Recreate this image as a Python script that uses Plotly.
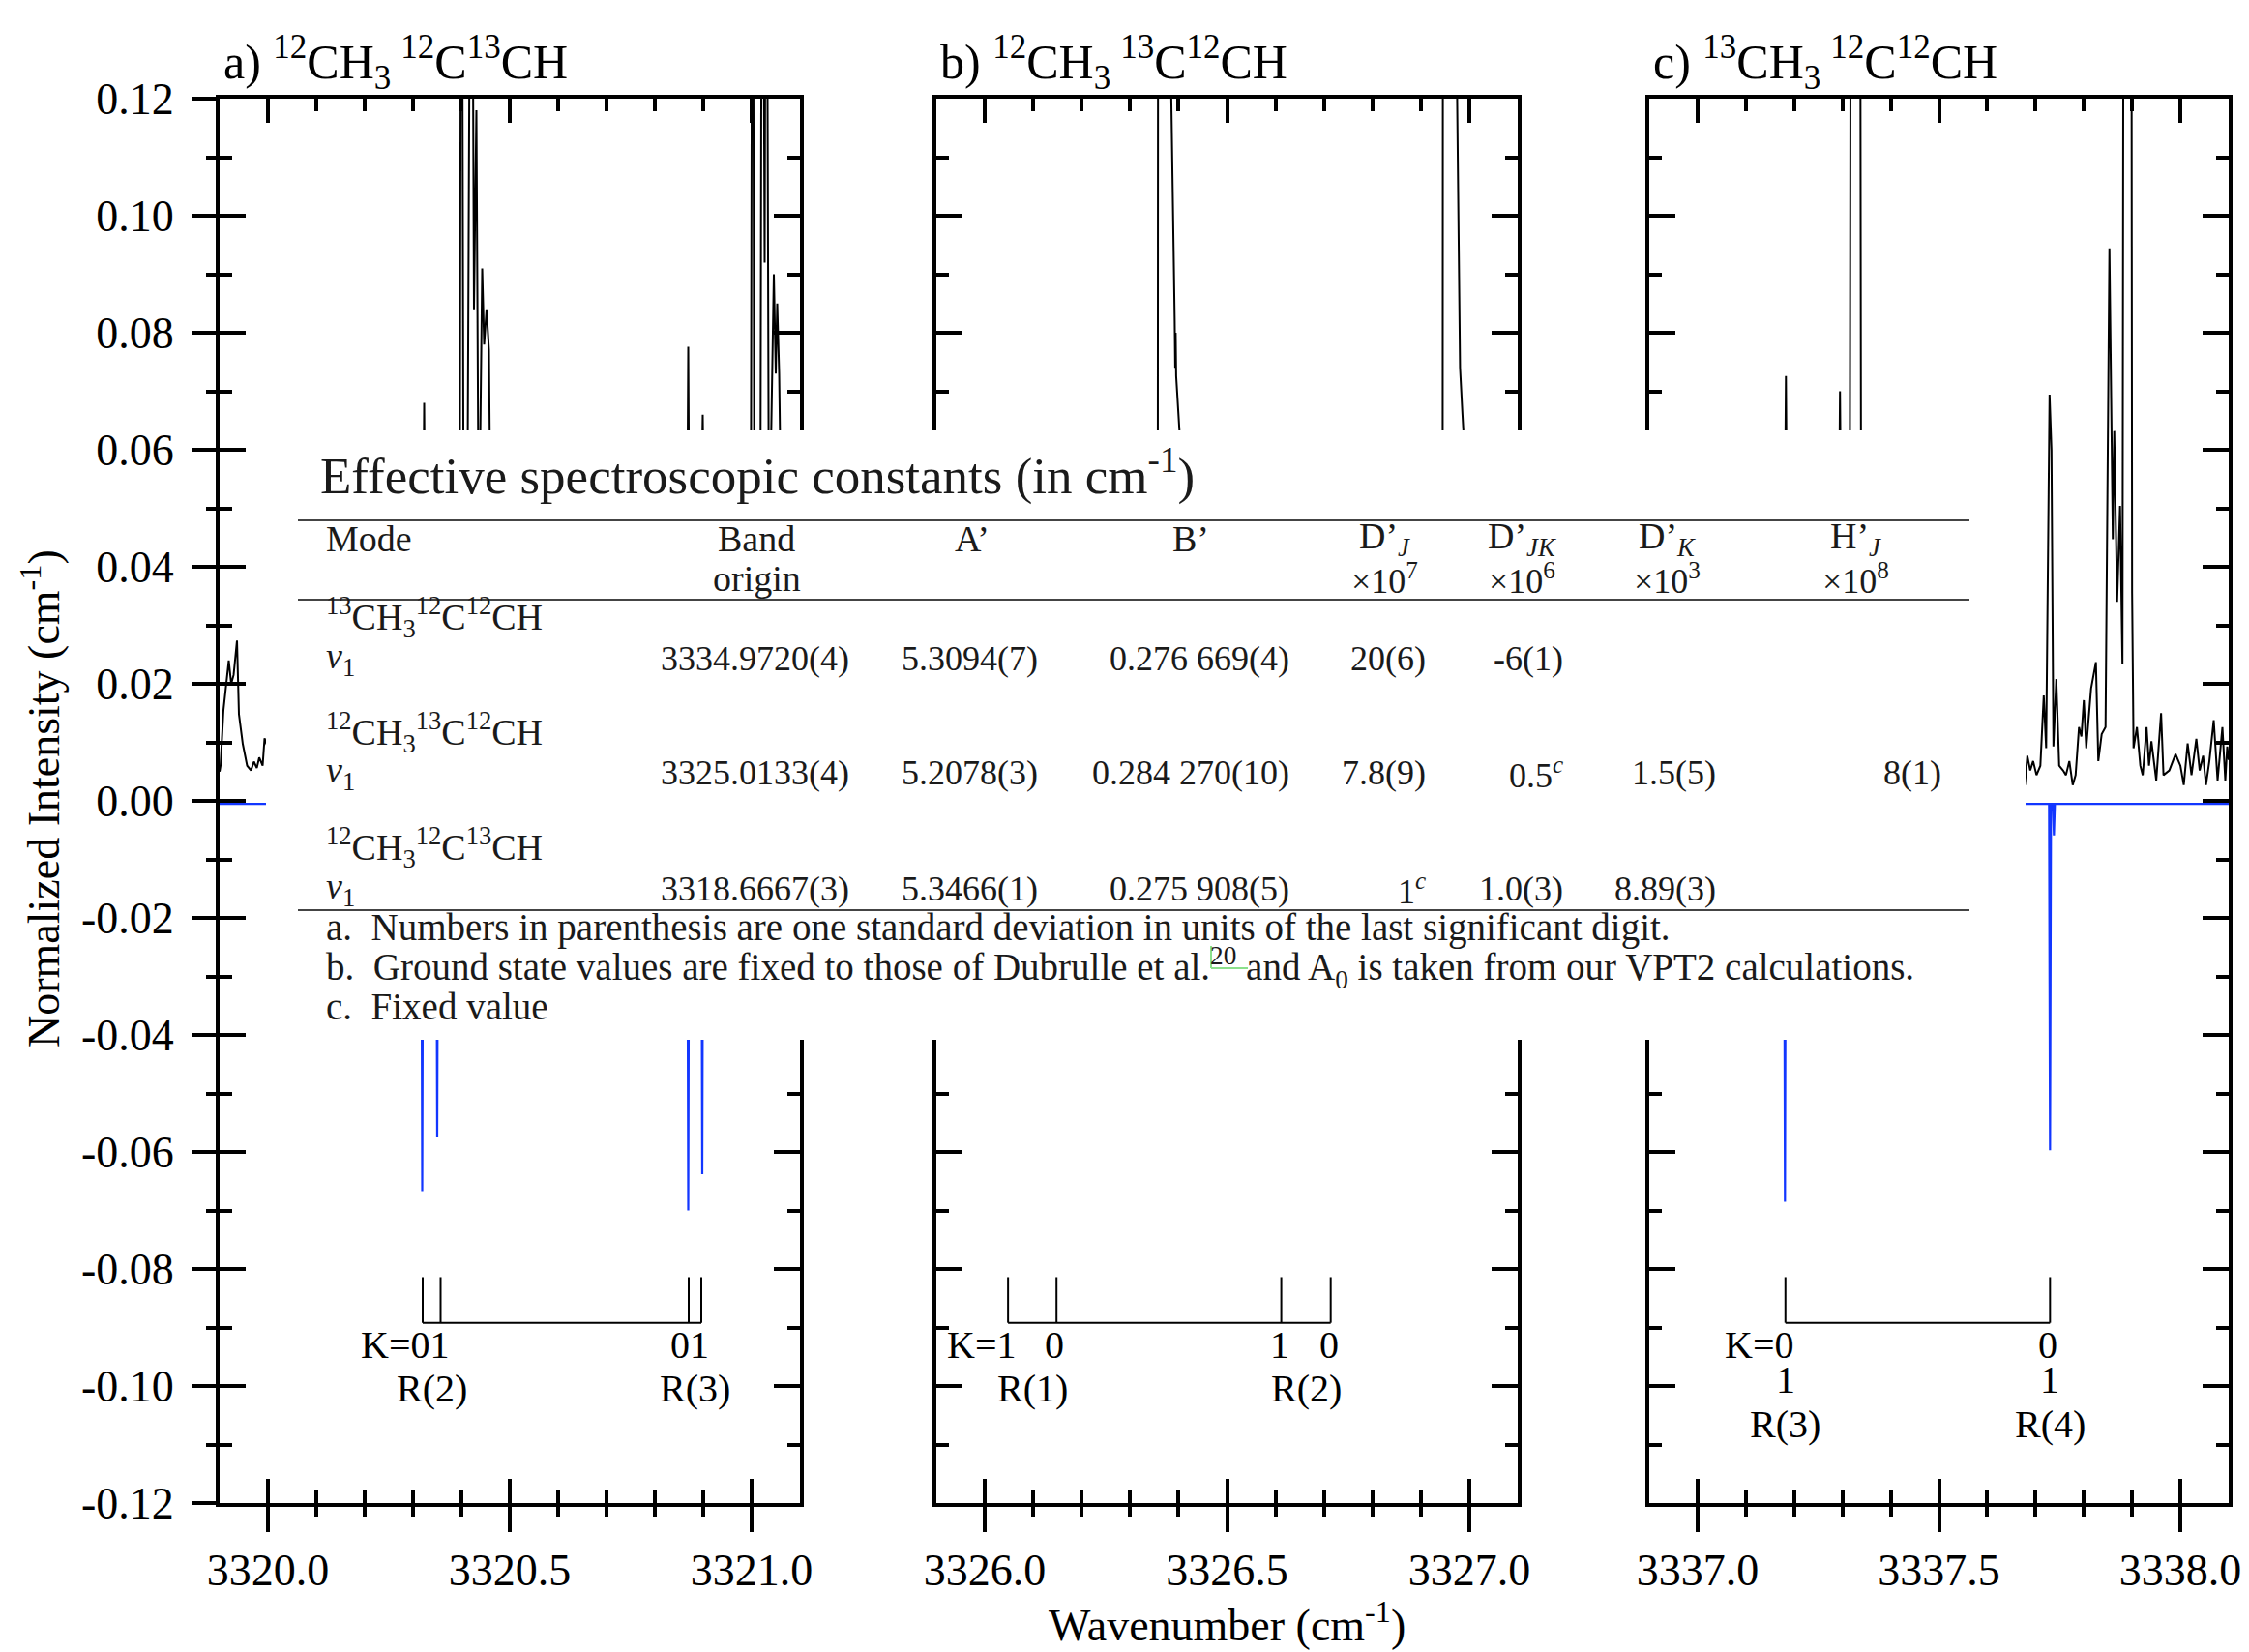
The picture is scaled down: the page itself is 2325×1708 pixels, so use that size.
import plotly.graph_objects as go

W, H = 2325, 1708
FONT = "Liberation Serif"

# ---------------- spectra: (wavenumber / cm-1, normalized intensity / cm-1) ----------------
exp_a = [(3319.900, 0.0050), (3319.902, 0.0060), (3319.908, 0.0155), (3319.914, 0.0200), (3319.919, 0.0240),
         (3319.924, 0.0200), (3319.929, 0.0215), (3319.936, 0.0274), (3319.940, 0.0148), (3319.948, 0.0097),
         (3319.957, 0.0060), (3319.965, 0.0052), (3319.971, 0.0067), (3319.977, 0.0056), (3319.982, 0.0074),
         (3319.989, 0.0060), (3319.993, 0.0107), (3320.000, 0.0090), (3320.050, 0.0080), (3320.120, 0.0060),
         (3320.200, 0.0100), (3320.260, 0.0080), (3320.318, 0.0080), (3320.323, 0.0680), (3320.328, 0.0120),
         (3320.345, 0.0200), (3320.360, 0.0300), (3320.380, 0.0150), (3320.396, 0.0200), (3320.400, 0.2000),
         (3320.405, 0.0300), (3320.412, 0.0400), (3320.4205, 0.2000), (3320.426, 0.0840), (3320.431, 0.1180),
         (3320.436, 0.0400), (3320.443, 0.0910), (3320.447, 0.0780), (3320.452, 0.0840), (3320.457, 0.0770),
         (3320.463, 0.0200), (3320.500, 0.0100), (3320.600, 0.0080), (3320.700, 0.0120), (3320.800, 0.0100),
         (3320.865, 0.0150), (3320.869, 0.0776), (3320.873, 0.0200), (3320.890, 0.0200), (3320.899, 0.0660),
         (3320.905, 0.0200), (3320.960, 0.0150), (3320.998, 0.0300), (3321.002, 0.2000), (3321.006, 0.0300),
         (3321.018, 0.0400), (3321.022, 0.2000), (3321.027, 0.0920), (3321.030, 0.2000), (3321.036, 0.0400),
         (3321.046, 0.0900), (3321.050, 0.0730), (3321.053, 0.0850), (3321.057, 0.0730), (3321.064, 0.0300),
         (3321.080, 0.0200), (3321.100, 0.0150)]

exp_b = [(3325.900, 0.0100), (3326.000, 0.0080), (3326.100, 0.0100), (3326.200, 0.0120), (3326.300, 0.0100),
         (3326.350, 0.0200), (3326.357, 0.0400), (3326.358, 0.2000), (3326.383, 0.2000), (3326.385, 0.1200),
         (3326.392, 0.0820), (3326.393, 0.0740), (3326.394, 0.0800), (3326.395, 0.0726), (3326.402, 0.0630),
         (3326.408, 0.0300), (3326.450, 0.0120), (3326.550, 0.0100), (3326.650, 0.0120), (3326.750, 0.0100),
         (3326.850, 0.0120), (3326.940, 0.0200), (3326.945, 0.0400), (3326.946, 0.2000), (3326.973, 0.2000),
         (3326.975, 0.1200), (3326.981, 0.0740), (3326.983, 0.0700), (3326.986, 0.0660), (3326.988, 0.0630),
         (3326.993, 0.0300), (3327.030, 0.0120), (3327.100, 0.0100)]

exp_c = [(3336.900, 0.0100), (3337.000, 0.0080), (3337.100, 0.0120), (3337.178, 0.0150), (3337.183, 0.0726),
         (3337.188, 0.0150), (3337.250, 0.0100), (3337.290, 0.0150), (3337.295, 0.0700), (3337.300, 0.0200),
         (3337.315, 0.0300), (3337.318, 0.2000), (3337.336, 0.2000), (3337.339, 0.0300), (3337.400, 0.0150),
         (3337.500, 0.0100), (3337.600, 0.0120), (3337.660, 0.0080), (3337.672, 0.0060), (3337.678, 0.0027),
         (3337.683, 0.0077), (3337.689, 0.0052), (3337.695, 0.0068), (3337.702, 0.0044), (3337.710, 0.0060),
         (3337.717, 0.0180), (3337.722, 0.0090), (3337.729, 0.0694), (3337.733, 0.0599), (3337.737, 0.0093),
         (3337.743, 0.0208), (3337.749, 0.0060), (3337.757, 0.0052), (3337.763, 0.0044), (3337.770, 0.0068),
         (3337.777, 0.0027), (3337.783, 0.0044), (3337.790, 0.0126), (3337.795, 0.0110), (3337.800, 0.0172),
         (3337.805, 0.0090), (3337.815, 0.0192), (3337.825, 0.0237), (3337.830, 0.0068), (3337.837, 0.0114),
         (3337.845, 0.0126), (3337.853, 0.0944), (3337.860, 0.0447), (3337.863, 0.0632), (3337.869, 0.0340),
         (3337.875, 0.0504), (3337.880, 0.0233), (3337.883, 0.2000), (3337.898, 0.2000), (3337.900, 0.0355),
         (3337.903, 0.0090), (3337.910, 0.0126), (3337.917, 0.0060), (3337.922, 0.0044), (3337.930, 0.0126),
         (3337.935, 0.0060), (3337.940, 0.0102), (3337.950, 0.0035), (3337.960, 0.0150), (3337.965, 0.0044),
         (3337.977, 0.0052), (3337.990, 0.0080), (3338.000, 0.0060), (3338.007, 0.0027), (3338.015, 0.0098),
         (3338.023, 0.0044), (3338.033, 0.0106), (3338.040, 0.0052), (3338.047, 0.0077), (3338.053, 0.0027),
         (3338.060, 0.0068), (3338.069, 0.0138), (3338.077, 0.0035), (3338.087, 0.0126), (3338.093, 0.0035),
         (3338.097, 0.0093), (3338.100, 0.0070)]

sim_a = [(3319.900, -0.0005), (3320.317, -0.0005), (3320.319, -0.0667), (3320.321, -0.0005),
         (3320.348, -0.0005), (3320.350, -0.0575), (3320.352, -0.0005), (3320.867, -0.0005),
         (3320.869, -0.0700), (3320.871, -0.0005), (3320.896, -0.0005), (3320.898, -0.0638),
         (3320.900, -0.0005), (3321.100, -0.0005)]

sim_b = [(3325.900, -0.0005), (3326.046, -0.0005), (3326.048, -0.0300), (3326.050, -0.0005),
         (3326.146, -0.0005), (3326.148, -0.0250), (3326.150, -0.0005), (3326.610, -0.0005),
         (3326.612, -0.0300), (3326.614, -0.0005), (3326.712, -0.0005), (3326.714, -0.0250),
         (3326.716, -0.0005), (3327.100, -0.0005)]

sim_c = [(3336.900, -0.0005), (3337.179, -0.0005), (3337.181, -0.0685), (3337.183, -0.0005),
         (3337.728, -0.0005), (3337.730, -0.0597), (3337.732, -0.0005), (3337.736, -0.0005),
         (3337.738, -0.0059), (3337.740, -0.0005), (3338.100, -0.0005)]

# ---------------- line assignments (K sub-levels of R branch lines) ----------------
sticks_a = [3320.320, 3320.357, 3320.870, 3320.896]
kvals_a = ["0", "1", "0", "1"]
branches_a = ["R(2)", "R(3)"]

sticks_b = [3326.048, 3326.148, 3326.612, 3326.714]
kvals_b = ["1", "0", "1", "0"]
branches_b = ["R(1)", "R(2)"]

sticks_c = [3337.182, 3337.730]
kvals_c = [["0", "1"], ["0", "1"]]
branches_c = ["R(3)", "R(4)"]

# ---------------- axes ----------------
x_ranges = [[3319.9, 3321.1], [3325.9, 3327.1], [3336.9, 3338.1]]
x_major = [[3320.0, 3320.5, 3321.0], [3326.0, 3326.5, 3327.0], [3337.0, 3337.5, 3338.0]]
x_major_text = [["3320.0", "3320.5", "3321.0"], ["3326.0", "3326.5", "3327.0"], ["3337.0", "3337.5", "3338.0"]]
y_major = [0.12, 0.10, 0.08, 0.06, 0.04, 0.02, 0.00, -0.02, -0.04, -0.06, -0.08, -0.10, -0.12]
y_major_text = ["0.12", "0.10", "0.08", "0.06", "0.04", "0.02", "0.00",
                "-0.02", "-0.04", "-0.06", "-0.08", "-0.10", "-0.12"]
y_minor = [0.11, 0.09, 0.07, 0.05, 0.03, 0.01, -0.01, -0.03, -0.05, -0.07, -0.09, -0.11]

panel_titles = ["a) <sup>12</sup>CH<sub>3</sub>\u2009<sup>12</sup>C<sup>13</sup>CH",
                "b) <sup>12</sup>CH<sub>3</sub>\u2009<sup>13</sup>C<sup>12</sup>CH",
                "c) <sup>13</sup>CH<sub>3</sub>\u2009<sup>12</sup>C<sup>12</sup>CH"]
y_title = "Normalized Intensity (cm<sup>-1</sup>)"
x_title = "Wavenumber (cm<sup>-1</sup>)"

# ---------------- inset table ----------------
table_title = "Effective spectroscopic constants (in cm<sup>-1</sup>)"
header_row1 = ["Mode", "Band", "A’", "B’", "D’<sub><i>J</i></sub>", "D’<sub><i>JK</i></sub>",
               "D’<sub><i>K</i></sub>", "H’<sub><i>J</i></sub>"]
header_row2 = ["", "origin", "", "", "×10<sup>7</sup>", "×10<sup>6</sup>", "×10<sup>3</sup>", "×10<sup>8</sup>"]
species = ["<sup>13</sup>CH<sub>3</sub><sup>12</sup>C<sup>12</sup>CH",
           "<sup>12</sup>CH<sub>3</sub><sup>13</sup>C<sup>12</sup>CH",
           "<sup>12</sup>CH<sub>3</sub><sup>12</sup>C<sup>13</sup>CH"]
mode_label = "<i>ν</i><sub>1</sub>"
band_origin = ["3334.9720(4)", "3325.0133(4)", "3318.6667(3)"]
A_prime = ["5.3094(7)", "5.2078(3)", "5.3466(1)"]
B_prime = ["0.276 669(4)", "0.284 270(10)", "0.275 908(5)"]
DJ = ["20(6)", "7.8(9)", "1<sup><i>c</i></sup>"]
DJK = ["-6(1)", "0.5<sup><i>c</i></sup>", "1.0(3)"]
DK = ["", "1.5(5)", "8.89(3)"]
HJ = ["", "8(1)", ""]
footnotes = ["a.\u2002Numbers in parenthesis are one standard deviation in units of the last significant digit.",
             "b.\u2002Ground state values are fixed to those of Dubrulle et al.<sup>20</sup> and A<sub>0</sub> is taken from our VPT2 calculations.",
             "c.\u2002Fixed value"]

# ---------------- layout geometry (pixels of the 2325x1708 page) ----------------
px_x_dom = [(227, 827), (968, 1569), (1705, 2304)]
px_y_dom = (102, 1554)


def px(x):
    return x / W


def py(y):
    return 1 - y / H


fig = go.Figure()

axis_common = dict(showline=True, linecolor="black", linewidth=4, showgrid=False, zeroline=False,
                   tickcolor="black", tickwidth=3.5, automargin=False)
tickfont = dict(family=FONT, size=46, color="black")

layout = dict(width=W, height=H, autosize=False,
              margin=dict(l=0, r=0, t=0, b=0, pad=0, autoexpand=False), paper_bgcolor="white",
              plot_bgcolor="white", showlegend=False, font=dict(family=FONT, color="black"))

exps = [exp_a, exp_b, exp_c]
sims = [sim_a, sim_b, sim_c]

for i in range(3):
    n = i + 1
    sfx = "" if n == 1 else str(n)
    xid, yid = "x" + sfx, "y" + sfx
    x_minor = [round(m + 0.1 * k, 2) for m in x_major[i][:-1] for k in range(1, 5)]
    layout["xaxis" + sfx] = dict(domain=[px(px_x_dom[i][0]), px(px_x_dom[i][1])], range=x_ranges[i],
                                 anchor=yid, ticks="inside", ticklen=25, tickmode="array",
                                 tickvals=x_major[i], showticklabels=False, mirror="ticks",
                                 minor=dict(ticks="inside", ticklen=13, tickmode="array", tickvals=x_minor,
                                            tickwidth=3.5, tickcolor="black"),
                                 **axis_common)
    layout["yaxis" + sfx] = dict(domain=[py(px_y_dom[1]), py(px_y_dom[0])], range=[-0.12, 0.12],
                                 anchor=xid, ticks="inside", ticklen=27, tickmode="array",
                                 tickvals=y_major, showticklabels=False, mirror="ticks",
                                 minor=dict(ticks="inside", ticklen=13, tickmode="array", tickvals=y_minor,
                                            tickwidth=3.5, tickcolor="black"),
                                 **axis_common)
    # overlay x axis: outside half of the crossing ticks + labels
    ov = str(n + 3)
    layout["xaxis" + ov] = dict(overlaying=xid, anchor=yid, range=x_ranges[i], side="bottom",
                                ticks="outside", ticklen=29, tickwidth=3.5, tickcolor="black",
                                tickmode="array", tickvals=x_major[i], ticktext=x_major_text[i],
                                showticklabels=True, tickfont=tickfont, ticklabelstandoff=0,
                                minor=dict(ticks="outside", ticklen=13, tickmode="array", tickvals=x_minor,
                                           tickwidth=3.5, tickcolor="black"),
                                showline=False, showgrid=False, zeroline=False, automargin=False)
    fig.add_trace(go.Scatter(x=[], y=[], xaxis="x" + ov, yaxis=yid, hoverinfo="skip"))

    # spectra
    ex, ey = zip(*exps[i])
    fig.add_trace(go.Scatter(x=ex, y=ey, xaxis=xid, yaxis=yid, mode="lines",
                             line=dict(color="black", width=2), hoverinfo="skip"))
    sx, sy = zip(*sims[i])
    fig.add_trace(go.Scatter(x=sx, y=sy, xaxis=xid, yaxis=yid, mode="lines",
                             line=dict(color="#1236ff", width=2.2), hoverinfo="skip"))

# overlay y axis for panel a (outside ticks + labels)
layout["yaxis7"] = dict(overlaying="y", anchor="x", side="left", range=[-0.12, 0.12],
                        ticks="outside", ticklen=27, tickwidth=3.5, tickcolor="black",
                        tickmode="array", tickvals=y_major, ticktext=y_major_text,
                        showticklabels=True, tickfont=tickfont, ticklabelstandoff=10,
                        minor=dict(ticks="outside", ticklen=13, tickmode="array", tickvals=y_minor,
                                   tickwidth=3.5, tickcolor="black"),
                        showline=False, showgrid=False, zeroline=False, automargin=False)
fig.add_trace(go.Scatter(x=[], y=[], xaxis="x", yaxis="y7", hoverinfo="skip"))

# ---------------- assignment combs ----------------
STICK_TOP, STICK_BOT = -0.0814, -0.0892
K_ROW, K2_ROW, R_ROW, R_ROW_C = -0.093, -0.0990, -0.1004, -0.1065
annotations = []
lab_font = dict(family=FONT, size=40, color="black")


def comb(sticks, xid, yid):
    xs, ys = [], []
    for s in sticks:
        xs += [s, s, None]
        ys += [STICK_TOP, STICK_BOT, None]
    xs += [min(sticks), max(sticks)]
    ys += [STICK_BOT, STICK_BOT]
    fig.add_trace(go.Scatter(x=xs, y=ys, xaxis=xid, yaxis=yid, mode="lines",
                             line=dict(color="black", width=2), hoverinfo="skip"))


def lab(x, y, text, xid, yid, xanchor="center", xshift=0):
    annotations.append(dict(x=x, y=y, xref=xid, yref=yid, text=text, showarrow=False,
                            xanchor=xanchor, yanchor="middle", xshift=xshift, font=lab_font))


# panel a: K labels of each closely spaced pair written together, ending under the K=1 stick
comb(sticks_a, "x", "y")
for g, br in enumerate(branches_a):
    pair = sticks_a[2 * g:2 * g + 2]
    klab = "".join(kvals_a[2 * g:2 * g + 2])
    lab(pair[1], K_ROW, ("K=" if g == 0 else "") + klab, "x", "y", xanchor="right", xshift=10)
    lab(sum(pair) / 2, R_ROW, br, "x", "y")

# panel b: well separated sticks, one label each
comb(sticks_b, "x2", "y2")
for j, (s, k) in enumerate(zip(sticks_b, kvals_b)):
    lab(s, K_ROW, ("K=" if j == 0 else "") + k, "x2", "y2", xanchor="right", xshift=10)
for g, br in enumerate(branches_b):
    lab((sticks_b[2 * g] + sticks_b[2 * g + 1]) / 2, R_ROW, br, "x2", "y2")

# panel c: K=0 and K=1 coincide, stacked labels
comb(sticks_c, "x3", "y3")
for j, (s, ks, br) in enumerate(zip(sticks_c, kvals_c, branches_c)):
    lab(s, K_ROW, ("K=" if j == 0 else "") + ks[0], "x3", "y3", xanchor="right", xshift=10)
    lab(s, K2_ROW, ks[1], "x3", "y3")
    lab(s, R_ROW_C, br, "x3", "y3")

# ---------------- titles ----------------
for i, t in enumerate(panel_titles):
    annotations.append(dict(x=px(px_x_dom[i][0] + 2), y=py(65), xref="paper", yref="paper", text=t,
                            showarrow=False, xanchor="left", yanchor="middle",
                            font=dict(family=FONT, size=50, color="black")))
annotations.append(dict(x=px(42), y=py(826), xref="paper", yref="paper", text=y_title, textangle=-90,
                        showarrow=False, xanchor="center", yanchor="middle",
                        font=dict(family=FONT, size=46, color="black")))
annotations.append(dict(x=px(1268), y=py(1677), xref="paper", yref="paper", text=x_title,
                        showarrow=False, xanchor="center", yanchor="middle",
                        font=dict(family=FONT, size=46, color="black")))

# ---------------- inset table ----------------
NUM_SIZE, WORD_SIZE, NOTE_SIZE = 36, 38, 39


def tt(x, y, text, xanchor, size):
    annotations.append(dict(x=px(x), y=py(y), xref="paper", yref="paper", text=text, showarrow=False,
                            xanchor=xanchor, yanchor="middle",
                            font=dict(family=FONT, size=size, color="#1a1a1a")))


tt(329, 489, table_title, "left", 53)
head_x = [335, 782, 1005, 1231, 1431, 1573, 1723, 1919]
for j, (h1, h2) in enumerate(zip(header_row1, header_row2)):
    anc = "left" if j == 0 else "center"
    tt(head_x[j], 557, h1, anc, WORD_SIZE)
    if h2:
        tt(head_x[j], 598, h2, anc, WORD_SIZE if j == 1 else NUM_SIZE)
species_y = [638, 757, 876]
value_y = [681, 799, 919]
value_right = [880, 1075, 1335, 1476, 1618, 1776, 2009]
columns = [band_origin, A_prime, B_prime, DJ, DJK, DK, HJ]
for r in range(3):
    tt(335, species_y[r], species[r], "left", WORD_SIZE)
    tt(335, value_y[r], mode_label, "left", WORD_SIZE)
    for c, col in enumerate(columns):
        if col[r]:
            tt(value_right[c], value_y[r], col[r], "right", NUM_SIZE)
for fy, fn in zip([959, 1000, 1040], footnotes):
    tt(335, fy, fn, "left", NOTE_SIZE)

shapes = [dict(type="rect", xref="paper", yref="paper", x0=px(275), x1=px(2094), y0=py(1075), y1=py(445),
               fillcolor="white", line=dict(width=0), layer="above")]
for ry in [538, 620, 941]:
    shapes.append(dict(type="line", xref="paper", yref="paper", x0=px(308), x1=px(2036), y0=py(ry), y1=py(ry),
                       line=dict(color="#444444", width=2), layer="above"))
# hyperlink frame around the reference number
shapes.append(dict(type="line", xref="paper", yref="paper", x0=px(1252), x1=px(1252), y0=py(978), y1=py(1001),
                   line=dict(color="#8be08b", width=2), layer="above"))
shapes.append(dict(type="line", xref="paper", yref="paper", x0=px(1252), x1=px(1290), y0=py(1001), y1=py(1001),
                   line=dict(color="#8be08b", width=2), layer="above"))

layout["annotations"] = annotations
layout["shapes"] = shapes
fig.update_layout(**layout)
fig.write_html("out.html")
